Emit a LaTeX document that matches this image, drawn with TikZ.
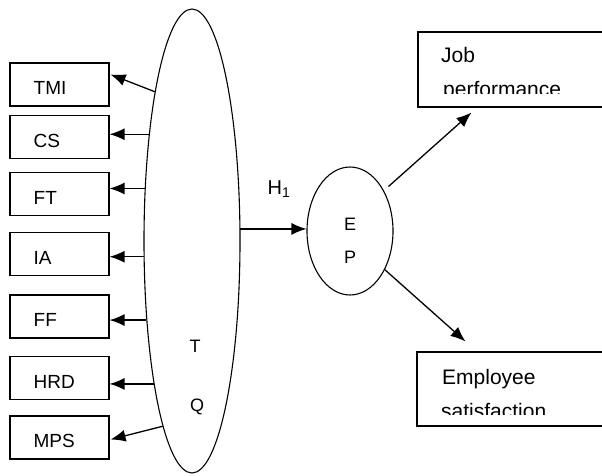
\documentclass[tikz,border=0pt]{standalone}
\usepackage{fontspec}
\setmainfont{Liberation Sans}
\usetikzlibrary{shapes.geometric,arrows.meta}
\tikzset{
  lbox/.style={draw, line width=1.1pt, minimum width=99pt, minimum height=43pt, inner sep=0pt},
  rbox/.style={draw, line width=1.1pt, inner sep=0pt},
  ltext/.style={anchor=base west, inner sep=0pt, font=\fontsize{19}{22}\selectfont},
  rtext/.style={anchor=base west, inner sep=0pt, font=\fontsize{21}{25}\selectfont},
  ctext/.style={inner sep=0pt, font=\fontsize{18}{21}\selectfont},
  oval/.style={draw, ellipse, line width=1.1pt, inner sep=0pt},
  arr/.style={line width=1.3pt, -{Latex[length=15pt,width=12pt]}},
}
\begin{document}
\begin{tikzpicture}[x=1pt,y=-1pt]
\useasboundingbox (0,0) rectangle (602,476);
% big ellipse
\node[oval, minimum width=96pt, minimum height=464pt] (tq) at (192,241) {};
\node[ctext] (t) at (195,346) {T};
\node[ctext] (q) at (197,407) {Q};
% left boxes
\node[lbox] (tmi) at (59.5,84.5) {};
\node[lbox] (cs) at (59.5,137) {};
\node[lbox] (ft) at (59.5,194) {};
\node[lbox] (ia) at (59.5,254) {};
\node[lbox] (ff) at (59.5,316.5) {};
\node[lbox] (hrd) at (59.5,378) {};
\node[lbox] (mps) at (59.5,437.5) {};
\node[ltext] (ttmi) at ([xshift=24pt,yshift=-10pt]tmi.west) {TMI};
\node[ltext] (tcs) at ([xshift=24pt,yshift=-10pt]cs.west) {CS};
\node[ltext] (tft) at ([xshift=24pt,yshift=-10pt]ft.west) {FT};
\node[ltext] (tia) at ([xshift=24pt,yshift=-10pt]ia.west) {IA};
\node[ltext] (tff) at ([xshift=24pt,yshift=-10pt]ff.west) {FF};
\node[ltext] (thrd) at ([xshift=24pt,yshift=-10pt]hrd.west) {HRD};
\node[ltext] (tmps) at ([xshift=24pt,yshift=-10pt]mps.west) {MPS};
% arrows to left boxes
\draw[arr] (tq.104.4) -- ([xshift=1pt,yshift=10pt]tmi.east);
\draw[arr] (tq.112.7) -- (tq.112.7 -| cs.east);
\draw[arr] (tq.132.5) -- (tq.132.5 -| ft.east);
\draw[arr] (tq.198.5) -- (tq.198.5 -| ia.east);
\draw[arr] (tq.240.6) -- (tq.240.6 -| ff.east);
\draw[arr] (tq.255.5) -- (tq.255.5 -| hrd.east);
\draw[arr] (tq.261.2) -- ([xshift=1pt,yshift=-2pt]mps.east);
% EP ellipse
\node[oval, minimum width=86pt, minimum height=128pt] (ep) at (350,231) {};
\node[ctext] (e) at (350,224) {E};
\node[ctext] (p) at (350,257) {P};
\draw[arr] (tq.14) -- (tq.14 -| ep.west);
\node[inner sep=0pt, font=\fontsize{20}{23}\selectfont] (h1) at (279,189) {H\textsubscript{1}};
% right boxes
\node[rbox, minimum width=188pt, minimum height=75pt] (job) at (512,69.5) {};
\node[rbox, minimum width=189pt, minimum height=74pt] (emp) at (511.5,389) {};
\node[rtext] (tjob) at (441,63) {Job};
\node[rtext] (temp) at (442,384) {Employee};
\begin{scope}
\clip (420,70) rectangle (600,94);
\node[rtext] (tperf) at (443,97) {performance};
\end{scope}
\begin{scope}
\clip (420,392) rectangle (600,414);
\node[rtext] (tsat) at (441,418) {satisfaction};
\end{scope}
\draw[arr, shorten <=6pt] (ep.50) -- ([xshift=54pt,yshift=-5pt]job.south west);
\draw[arr] (ep.-48) -- ([xshift=49pt,yshift=10pt]emp.north west);
\end{tikzpicture}
\end{document}
